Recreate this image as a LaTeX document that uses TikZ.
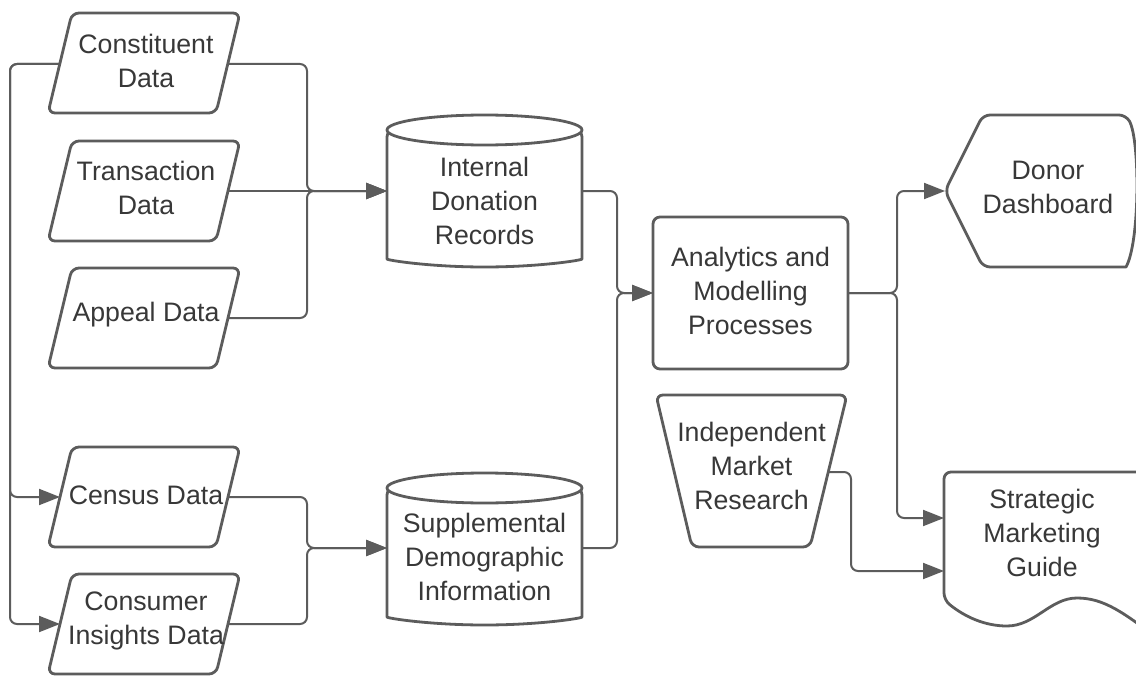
\documentclass[tikz,border=0pt]{standalone}
\usepackage{fontspec}
\setmainfont{Liberation Sans}
\usetikzlibrary{arrows.meta}
\definecolor{edge}{HTML}{5C5C5C}
\definecolor{ink}{HTML}{383838}
% parallelogram data source whose top edge sits at y = #1
\newcommand\inputslab[1]{\draw[shp] (72,#1) -- (240,#1) -- (216,#1+100) -- (48,#1+100) -- cycle;}
% cylinder store whose top ellipse is centred at y = #1
\newcommand\storedrum[1]{%
  \draw[shp] (387,#1) -- (387,#1+122) arc[start angle=180,end angle=360,x radius=97.5pt,y radius=15pt] -- (582,#1) -- cycle;
  \draw[shp] (484.5,#1) ellipse[x radius=97.5pt,y radius=15pt];}
\begin{document}
\begin{tikzpicture}[x=1pt,y=-1pt,
  shp/.style={draw=edge, line width=2.8pt, fill=white, rounded corners=7pt, line join=round},
  conn/.style={draw=edge, line width=2pt, rounded corners=7pt, -{Triangle[length=21pt,width=16pt]}},
  lbl/.style={text=ink, font=\fontsize{26.7}{34}\selectfont, align=center, inner sep=0pt}]
\useasboundingbox (0,0) rectangle (1136,677);
\fill[white] (0,0) rectangle (1136,677);
\clip (0,0) rectangle (1136,677);

% ---- data sources ----
\inputslab{13}
\inputslab{141}
\inputslab{268}
\inputslab{447}
\inputslab{574}
\node[lbl] (con) at (146,61) {Constituent\\Data};
\node[lbl] (tra) at (146,188) {Transaction\\Data};
\node[lbl] (app) at (146,315) {Appeal Data};
\node[lbl] (cen) at (146,495) {Census Data};
\node[lbl] (cns) at (146,621) {Consumer\\Insights Data};

% ---- stores ----
\storedrum{130}
\storedrum{488}
\node[lbl] (idr) at (484.5,201) {Internal\\Donation\\Records};
\node[lbl] (sdi) at (484.5,557) {Supplemental\\Demographic\\Information};

% ---- process ----
\draw[shp] (653,217) rectangle (848,369);
\node[lbl] (amp) at (750.5,291) {Analytics and\\Modelling\\Processes};

% ---- manual input ----
\draw[shp] (656,395) -- (847,395) -- (810,547) -- (692,547) -- cycle;
\node[lbl] (imr) at (751.5,466) {Independent\\Market\\Research};

% ---- display ----
\draw[shp] (983,115) -- (1126,115) [rounded corners=0pt] .. controls (1140,140) and (1140,242) .. (1126,267) [rounded corners=7pt] -- (983,267) -- (945,191) -- cycle;
\node[lbl] (ddb) at (1048,187) {Donor\\Dashboard};

% ---- document ----
\draw[shp] (1160,640) -- (1160,472) -- (944,472) -- (944,600) [rounded corners=0pt]
  .. controls (965,617) and (985,626) .. (1007,626)
  .. controls (1035,626) and (1050,598) .. (1077,598)
  .. controls (1105,598) and (1125,614) .. (1160,640);
\node[lbl] (smg) at (1042,533) {Strategic\\Marketing\\Guide};

% ---- connection points on the borders ----
\coordinate (conW) at (60,64);   \coordinate (conE) at (228,64);
\coordinate (traE) at (228,191);
\coordinate (appE) at (228,318);
\coordinate (cenW) at (60,497);  \coordinate (cenE) at (228,497);
\coordinate (cnsW) at (60,624);  \coordinate (cnsE) at (228,624);
\coordinate (idrW) at (387,191); \coordinate (idrE) at (582,191);
\coordinate (sdiW) at (387,548); \coordinate (sdiE) at (582,548);
\coordinate (ampW) at (653,293); \coordinate (ampE) at (848,293);
\coordinate (imrE) at (828,472);
\coordinate (ddbW) at (945,191);
\coordinate (smgA) at (944,518); \coordinate (smgB) at (944,571);

% ---- connectors ----
\draw[conn] (conW) -- ++(-50,0) |- (cenW);
\draw[conn] (conW) -- ++(-50,0) |- (cnsW);
\draw[conn] (conE) -- ++(79,0) |- (idrW);
\draw[conn] (traE) -- (idrW);
\draw[conn] (appE) -- ++(79,0) |- (idrW);
\draw[conn] (cenE) -- ++(79,0) |- (sdiW);
\draw[conn] (cnsE) -- ++(79,0) |- (sdiW);
\draw[conn] (idrE) -- ++(35,0) |- (ampW);
\draw[conn] (sdiE) -- ++(35,0) |- (ampW);
\draw[conn] (ampE) -- ++(49,0) |- (ddbW);
\draw[conn] (ampE) -- ++(49,0) |- (smgA);
\draw[conn] (imrE) -- ++(23,0) |- (smgB);
\end{tikzpicture}
\end{document}
